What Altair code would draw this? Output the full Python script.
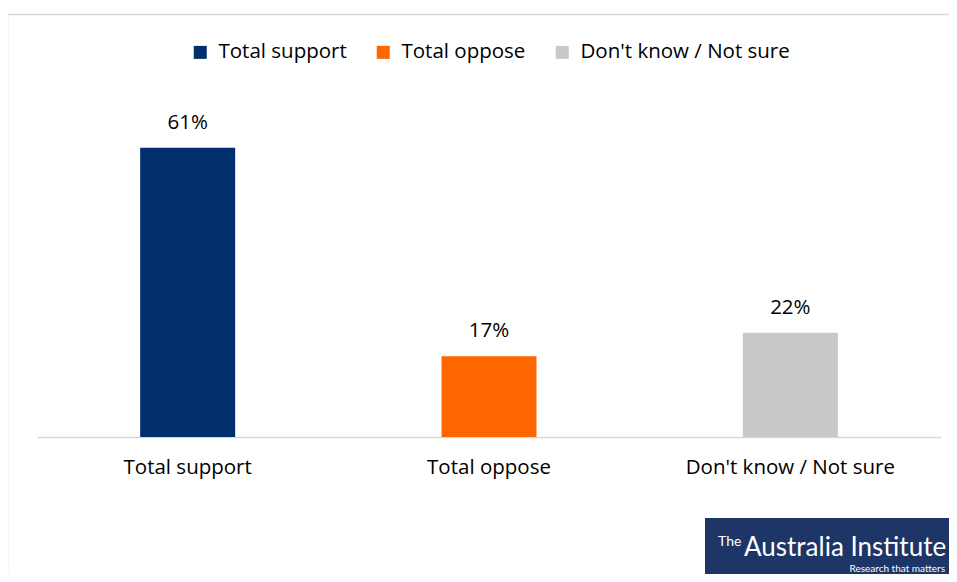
import altair as alt
import pandas as pd

categories = ["Total support", "Total oppose", "Don't know / Not sure"]
values = [61, 17, 22]
colors = ["#002F6C", "#FF6600", "#C9C9C9"]

df = pd.DataFrame({"category": categories, "value": values})

FONT = "Open Sans"
FS = 20.5

x_enc = alt.X(
    "category:N",
    sort=categories,
    scale=alt.Scale(paddingInner=0, paddingOuter=0),
    axis=alt.Axis(
        title=None,
        labelAngle=0,
        ticks=False,
        domainColor="#D9D9D9",
        domainWidth=1.5,
        labelFont=FONT,
        labelFontSize=FS,
        labelColor="#000000",
        labelPadding=20,
        labelLimit=0,
    ),
)
y_enc = alt.Y("value:Q", scale=alt.Scale(domain=[0, 70]), axis=None)

base = alt.Chart(df)
one = "datum.category == 'Total support'"

frame = base.mark_rect(fill=None, stroke="#D9D9D9", strokeWidth=1.5).encode(
    x=alt.value(-29.5), x2=alt.value(1000), y=alt.value(-90.5), y2=alt.value(600)
).transform_filter(one)

bars = base.mark_bar(size=95).encode(
    x=x_enc,
    y=y_enc,
    color=alt.Color(
        "category:N",
        sort=categories,
        scale=alt.Scale(domain=categories, range=colors),
        legend=alt.Legend(
            title=None,
            orient="none",
            direction="horizontal",
            legendX=153,
            legendY=-63,
            symbolType="square",
            symbolSize=169,
            symbolStrokeWidth=0,
            symbolOpacity=1,
            labelFont=FONT,
            labelFontSize=FS,
            labelColor="#000000",
            labelLimit=0,
            columnPadding=26,
            labelOffset=8,
        ),
    ),
)

labels = base.mark_text(
    baseline="alphabetic", dy=-19, font=FONT, fontSize=FS, color="#000000"
).transform_calculate(label="datum.value + '%'").encode(
    x=alt.X("category:N", sort=categories),
    y=y_enc,
    text="label:N",
)

logo_box = base.mark_rect(fill="#1E3568").encode(
    x=alt.value(668), x2=alt.value(1000), y=alt.value(413), y2=alt.value(600)
).transform_filter(one)

logo_the = base.mark_text(
    text="The", font="Lato", fontSize=14, color="#FFFFFF",
    align="left", baseline="alphabetic",
).encode(x=alt.value(681), y=alt.value(441)).transform_filter(one)

logo_main = base.mark_text(
    text="Australia Institute", font="Lato", fontSize=26,
    color="#FFFFFF", align="left", baseline="alphabetic",
).encode(x=alt.value(707), y=alt.value(451)).transform_filter(one)

logo_sub = base.mark_text(
    text="Research that matters", font="Lato", fontSize=10,
    color="#FFFFFF", align="right", baseline="alphabetic",
).encode(x=alt.value(908), y=alt.value(467)).transform_filter(one)

chart = (
    alt.layer(frame, bars, labels, logo_box, logo_the, logo_main, logo_sub)
    .properties(
        width=904,
        height=332,
        autosize=alt.AutoSizeParams(type="none"),
        padding={"left": 29, "top": 97, "right": 8, "bottom": 137},
    )
    .configure(background="#FFFFFF")
    .configure_view(stroke=None)
)

chart.save("out.html", embed_options={"renderer": "svg", "actions": False})
